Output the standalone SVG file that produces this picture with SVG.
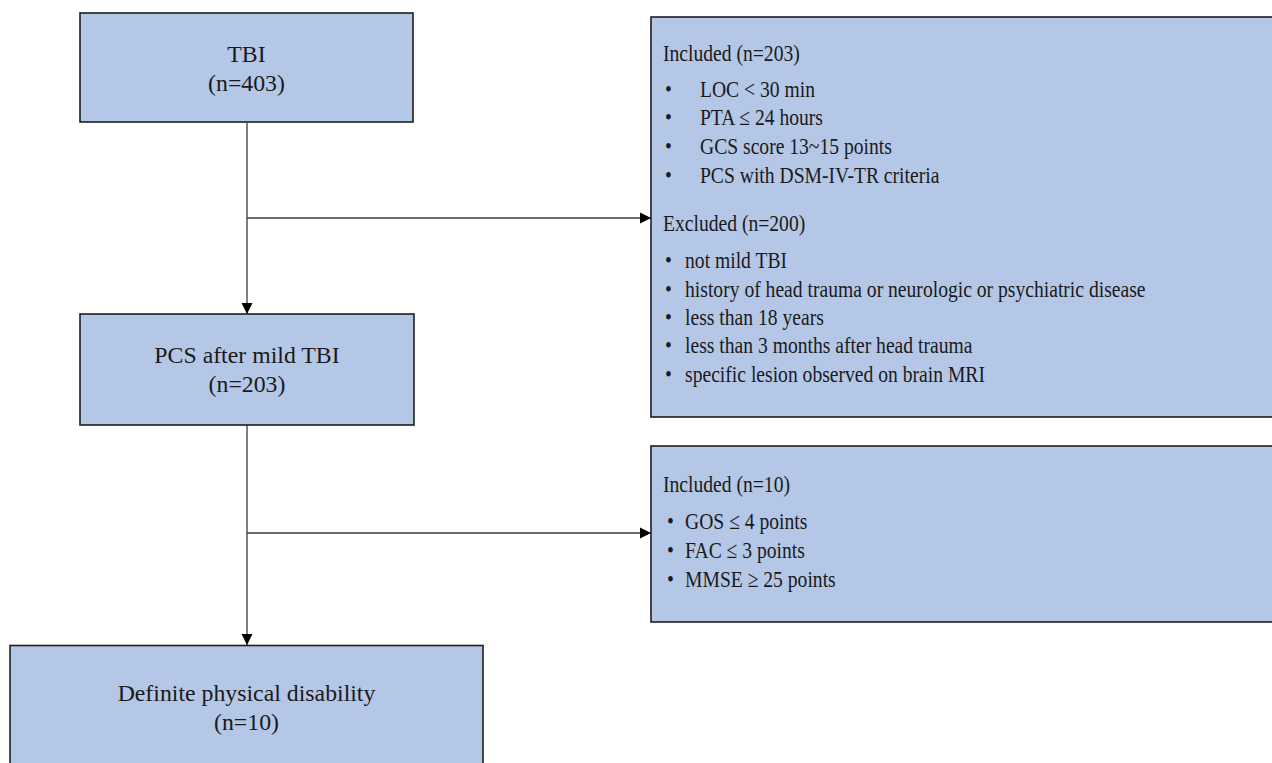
<svg xmlns="http://www.w3.org/2000/svg" width="1272" height="763" viewBox="0 0 1272 763">
<style>
.box{fill:#b4c7e7;stroke:#1e1e1e;stroke-width:1.6}
.t{font-family:"Liberation Serif","Times New Roman",serif;font-size:23.8px;fill:#1a1a1a}
.c{text-anchor:middle}
.r{font-family:"Liberation Serif","Times New Roman",serif;font-size:23.5px;fill:#1a1a1a}
.ln{fill:none;stroke:#3a3a3a;stroke-width:1.3}
</style>
<defs>
<marker id="ah" viewBox="0 0 10 10" refX="10" refY="5" markerWidth="11.5" markerHeight="11.5" markerUnits="userSpaceOnUse" orient="auto">
<path d="M0,0 L10,5 L0,10 Z" fill="#000"/>
</marker>
</defs>
<rect width="1272" height="763" fill="#fff"/>
<g id="connectors">
<line class="ln" x1="247" y1="123" x2="247" y2="314" marker-end="url(#ah)"/>
<line class="ln" x1="247" y1="218" x2="651" y2="218" marker-end="url(#ah)"/>
<line class="ln" x1="247" y1="425" x2="247" y2="645" marker-end="url(#ah)"/>
<line class="ln" x1="247" y1="533" x2="651" y2="533" marker-end="url(#ah)"/>
</g>
<g id="tbi">
<rect class="box" x="80" y="13" width="333" height="109"/>
<text class="t c" x="246.5" y="62">TBI</text>
<text class="t c" x="246.5" y="91">(n=403)</text>
</g>
<g id="pcs">
<rect class="box" x="80" y="314" width="334" height="111"/>
<text class="t c" x="247" y="363">PCS after mild TBI</text>
<text class="t c" x="247" y="392">(n=203)</text>
</g>
<g id="definite">
<rect class="box" x="10" y="645.5" width="473" height="130"/>
<text class="t c" x="246.5" y="701">Definite physical disability</text>
<text class="t c" x="246.5" y="730">(n=10)</text>
</g>
<g id="criteria1">
<rect class="box" x="651" y="17" width="640" height="400"/>
<g transform="scale(0.835,1)">
<text class="r" x="794" y="61">Included (n=203)</text>
<text class="r" x="796.4" y="97">•</text><text class="r" x="838.3" y="97">LOC &lt; 30 min</text>
<text class="r" x="796.4" y="125">•</text><text class="r" x="838.3" y="125">PTA ≤ 24 hours</text>
<text class="r" x="796.4" y="154">•</text><text class="r" x="838.3" y="154">GCS score 13~15 points</text>
<text class="r" x="796.4" y="183">•</text><text class="r" x="838.3" y="183">PCS with DSM-IV-TR criteria</text>
<text class="r" x="794" y="231">Excluded (n=200)</text>
<text class="r" x="796.4" y="268">•</text><text class="r" x="820.4" y="268">not mild TBI</text>
<text class="r" x="796.4" y="297">•</text><text class="r" x="820.4" y="297">history of head trauma or neurologic or psychiatric disease</text>
<text class="r" x="796.4" y="325">•</text><text class="r" x="820.4" y="325">less than 18 years</text>
<text class="r" x="796.4" y="353">•</text><text class="r" x="820.4" y="353">less than 3 months after head trauma</text>
<text class="r" x="796.4" y="382">•</text><text class="r" x="820.4" y="382">specific lesion observed on brain MRI</text>
</g>
</g>
<g id="criteria2">
<rect class="box" x="651" y="446" width="640" height="176"/>
<g transform="scale(0.835,1)">
<text class="r" x="794" y="492">Included (n=10)</text>
<text class="r" x="798.8" y="529">•</text><text class="r" x="820.4" y="529">GOS ≤ 4 points</text>
<text class="r" x="798.8" y="558">•</text><text class="r" x="820.4" y="558">FAC ≤ 3 points</text>
<text class="r" x="798.8" y="587">•</text><text class="r" x="820.4" y="587">MMSE ≥ 25 points</text>
</g>
</g>
</svg>
